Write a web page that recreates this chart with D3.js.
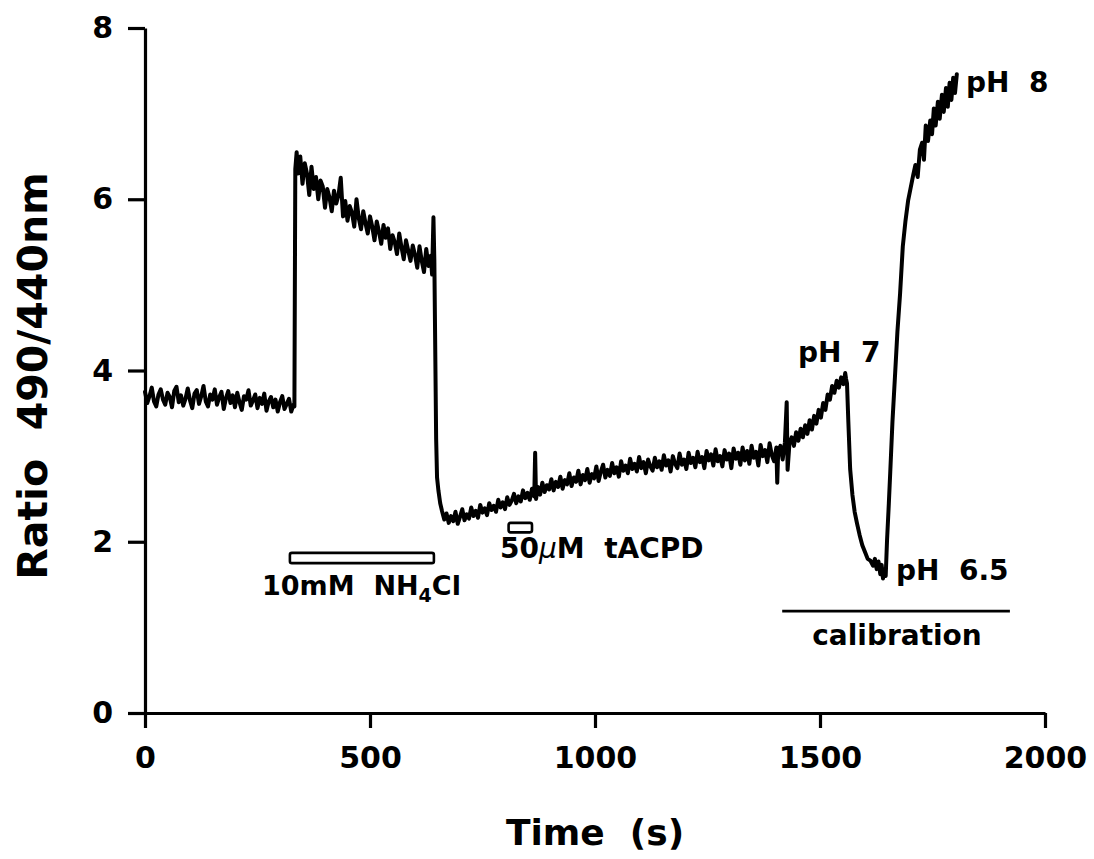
<!DOCTYPE html>
<html>
<head>
<meta charset="utf-8">
<script src="https://cdn.jsdelivr.net/npm/d3@7"></script>
<style>
  html, body { margin: 0; padding: 0; background: #fff; }
  svg { display: block; }
  text { font-family: "DejaVu Sans", sans-serif; font-weight: bold; fill: #000; white-space: pre; }
</style>
</head>
<body>
<svg id="chart" width="1094" height="859"></svg>
<script>
// ---- data (time in s, ratio 490/440nm) ----
const xTicks = [0, 500, 1000, 1500, 2000];
const yTicks = [0, 2, 4, 6, 8];

const baseline = [
  [0,3.75],[5,3.62],[10,3.70],[15,3.80],[20,3.64],[25,3.58],[30,3.72],[35,3.78],[40,3.66],[45,3.60],
  [50,3.74],[55,3.69],[60,3.57],[65,3.76],[70,3.81],[75,3.63],[80,3.71],[85,3.59],[90,3.67],[95,3.79],
  [100,3.65],[105,3.56],[110,3.73],[115,3.77],[120,3.61],[125,3.70],[130,3.82],[135,3.64],[140,3.58],[145,3.72],
  [150,3.66],[155,3.78],[160,3.60],[165,3.69],[170,3.75],[175,3.55],[180,3.68],[185,3.76],[190,3.62],[195,3.71],
  [200,3.57],[205,3.74],[210,3.63],[215,3.54],[220,3.70],[225,3.66],[230,3.77],[235,3.59],[240,3.65],[245,3.72],
  [250,3.56],[255,3.68],[260,3.61],[265,3.73],[270,3.53],[275,3.64],[280,3.69],[285,3.57],[290,3.66],[295,3.52],
  [300,3.63],[305,3.70],[310,3.55],[315,3.61],[320,3.67],[325,3.52],[330,3.60],[332,3.58]
];

const ammonium = [
  [334,6.35],[337,6.55],[340,6.30],[345,6.50],[350,6.18],[355,6.42],[360,6.30],[365,6.05],[370,6.38],[375,6.12],
  [380,6.26],[385,6.00],[390,6.22],[395,6.15],[400,5.90],[405,6.12],[410,6.02],[415,5.86],[420,6.10],[425,5.95],
  [430,6.05],[435,6.25],[440,5.80],[445,5.98],[450,5.75],[455,5.92],[460,5.84],[465,5.68],[470,6.00],[475,5.78],
  [480,5.65],[485,5.86],[490,5.72],[495,5.60],[500,5.80],[505,5.68],[510,5.52],[515,5.74],[520,5.62],[525,5.48],
  [530,5.70],[535,5.55],[540,5.66],[545,5.42],[550,5.58],[555,5.50],[560,5.36],[565,5.60],[570,5.44],[575,5.30],
  [580,5.52],[585,5.40],[590,5.28],[595,5.46],[600,5.35],[605,5.20],[610,5.45],[615,5.28],[620,5.15],[625,5.42],
  [630,5.22],[635,5.34],[638,5.12],[641,5.79],[643,5.28]
];

const recovery = [
  [647,3.20],[649,2.75],[652,2.60],[656,2.45],[660,2.36],[665,2.26],[670,2.33],[675,2.22],[680,2.30],[685,2.24],
  [690,2.35],[695,2.21],[700,2.29],[705,2.38],[710,2.25],[715,2.32],[720,2.27],[725,2.40],[730,2.30],[735,2.36],
  [740,2.28],[745,2.43],[750,2.34],[755,2.39],[760,2.31],[765,2.45],[770,2.37],[775,2.42],[780,2.35],[785,2.49],
  [790,2.40],[795,2.46],[800,2.38],[805,2.52],[810,2.43],[815,2.48],[820,2.56],[825,2.45],[830,2.53],[835,2.47],
  [840,2.60],[845,2.51],[850,2.57],[855,2.49],[860,2.62],[865,2.53],[867,3.04],[869,2.50],[873,2.64],[878,2.55],
  [883,2.69],[888,2.58],[893,2.66],[898,2.61],[903,2.73],[908,2.60],[913,2.70],[918,2.64],[923,2.76],[928,2.62],
  [933,2.72],[938,2.67],[943,2.80],[948,2.65],[953,2.75],[958,2.70],[963,2.83],[968,2.67],[973,2.78],[978,2.72],
  [983,2.85],[988,2.69],[993,2.79],[998,2.74],[1003,2.88],[1008,2.71],[1013,2.82],[1018,2.90],[1023,2.75],[1028,2.84],
  [1033,2.77],[1038,2.92],[1043,2.80],[1048,2.87],[1053,2.76],[1058,2.94],[1063,2.83],[1068,2.89],[1073,2.80],[1078,2.97],
  [1083,2.85],[1088,2.91],[1093,2.82],[1098,2.99],[1103,2.86],[1108,2.93],[1113,2.80],[1118,2.96],[1123,2.88],[1128,2.83],
  [1133,2.98],[1138,2.87],[1143,2.94],[1148,2.84],[1153,3.01],[1158,2.89],[1163,2.95],[1168,2.82],[1173,3.00],[1178,2.91],
  [1183,2.86],[1188,3.03],[1193,2.90],[1198,2.96],[1203,2.85],[1208,3.04],[1213,2.92],[1218,2.98],[1223,2.87],[1228,3.05],
  [1233,2.93],[1238,2.99],[1243,2.86],[1248,3.06],[1253,2.95],[1258,3.02],[1263,2.89],[1268,3.08],[1273,2.94],[1278,3.00],
  [1283,2.88],[1288,3.07],[1293,2.96],[1298,3.03],[1303,2.86],[1308,3.09],[1313,2.97],[1318,3.04],[1323,2.90],[1328,3.10],
  [1333,2.95],[1338,3.06],[1343,2.91],[1348,3.12],[1353,2.98],[1358,3.05],[1363,2.89],[1368,3.13],[1373,3.00],[1378,3.07],
  [1383,2.93],[1388,3.15],[1393,3.01],[1398,2.94],[1403,3.10],[1405,2.69],[1407,3.04],[1412,3.12],[1417,2.96],[1422,3.16],
  [1426,3.63],[1428,2.84],[1432,3.14],[1437,3.22],[1442,3.12],[1447,3.28],[1452,3.18],[1457,3.32],[1462,3.22],[1467,3.36],
  [1472,3.26],[1477,3.42],[1482,3.31],[1487,3.47],[1492,3.38],[1497,3.54],[1502,3.45],[1507,3.62],[1512,3.54],[1517,3.72],
  [1522,3.66],[1527,3.82],[1532,3.74],[1537,3.88],[1542,3.80],[1547,3.92],[1552,3.84],[1556,3.97],[1558,3.90]
];

const calibration = [
  [1560,3.85],[1563,3.40],[1567,2.85],[1572,2.55],[1577,2.35],[1582,2.22],[1588,2.08],[1594,1.96],[1600,1.88],[1606,1.80],
  [1612,1.78],[1618,1.72],[1622,1.80],[1626,1.68],[1630,1.77],[1634,1.62],[1637,1.73],[1640,1.57],[1643,1.68],[1646,1.60],
  [1649,2.02],[1653,2.45],[1656,2.80],[1661,3.40],[1667,3.97],[1672,4.45],[1678,4.90],[1684,5.45],[1690,5.75],[1696,5.99],
  [1701,6.12],[1707,6.28],[1712,6.40],[1717,6.26],[1722,6.58],[1727,6.66],[1731,6.46],[1735,6.86],[1740,6.68],[1745,6.92],
  [1749,6.76],[1753,7.06],[1757,6.86],[1762,7.14],[1766,6.94],[1771,7.22],[1775,7.02],[1780,7.30],[1784,7.08],[1788,7.36],
  [1792,7.16],[1796,7.42],[1800,7.24],[1804,7.46]
];

// application bars [start, end] in s, at ratio levels
const nh4clBar = [322, 642];
const tacpdBar = [808, 860];
const calibBar = [1416, 1922];

// ---- drawing ----
const svg = d3.select("#chart");
const x = d3.scaleLinear().domain([0, 2000]).range([145, 1045]);
const y = d3.scaleLinear().domain([0, 8]).range([713, 28]);

const trace = baseline.concat(ammonium, recovery, calibration);

// axes
const yAxis = svg.append("g").attr("transform", `translate(${x(0)},0)`)
  .call(d3.axisLeft(y).tickValues(yTicks).tickSize(17).tickSizeOuter(0).tickPadding(15).tickFormat(d3.format("d")));
const xAxis = svg.append("g").attr("transform", `translate(0,${y(0)})`)
  .call(d3.axisBottom(x).tickValues(xTicks).tickSize(15).tickSizeOuter(0).tickPadding(19).tickFormat(d3.format("d")));
[yAxis, xAxis].forEach(g => {
  g.select(".domain").attr("stroke", "#000").attr("stroke-width", 3.2);
  g.selectAll(".tick line").attr("stroke", "#000").attr("stroke-width", 3.2);
  g.selectAll(".tick text").attr("font-family", "DejaVu Sans").attr("font-weight", "bold")
    .attr("font-size", 30).attr("fill", "#000");
});

// trace
const line = d3.line().x(d => x(d[0])).y(d => y(d[1]));
svg.append("path").datum(trace)
  .attr("d", line)
  .attr("fill", "none").attr("stroke", "#000")
  .attr("stroke-width", 4).attr("stroke-linejoin", "round").attr("stroke-linecap", "round");

// bars
svg.append("rect")
  .attr("x", x(nh4clBar[0])).attr("y", y(1.87))
  .attr("width", x(nh4clBar[1]) - x(nh4clBar[0])).attr("height", y(1.75) - y(1.87))
  .attr("rx", 2).attr("fill", "#fff").attr("stroke", "#000").attr("stroke-width", 2.6);
svg.append("rect")
  .attr("x", x(tacpdBar[0])).attr("y", y(2.22))
  .attr("width", x(tacpdBar[1]) - x(tacpdBar[0])).attr("height", y(2.11) - y(2.22))
  .attr("rx", 2).attr("fill", "#fff").attr("stroke", "#000").attr("stroke-width", 2.6);
svg.append("line")
  .attr("x1", x(calibBar[0])).attr("x2", x(calibBar[1]))
  .attr("y1", y(1.19)).attr("y2", y(1.19))
  .attr("stroke", "#000").attr("stroke-width", 2.6);

// annotation text
const t1 = svg.append("text").attr("x", 262).attr("y", 595).attr("font-size", 27);
t1.append("tspan").text("10mM  NH");
t1.append("tspan").attr("dy", 7).attr("font-size", 19).text("4");
t1.append("tspan").attr("dy", -7).text("Cl");

const t2 = svg.append("text").attr("x", 500).attr("y", 558).attr("font-size", 28);
t2.append("tspan").text("50");
t2.append("tspan").attr("font-style", "italic").attr("font-weight", "normal").text("μ");
t2.append("tspan").text("M  tACPD");

svg.append("text").attr("x", 897).attr("y", 645).attr("font-size", 28).attr("text-anchor", "middle").text("calibration");
svg.append("text").attr("x", 798).attr("y", 362).attr("font-size", 28).text("pH  7");
svg.append("text").attr("x", 896).attr("y", 580).attr("font-size", 28).text("pH  6.5");
svg.append("text").attr("x", 966).attr("y", 92).attr("font-size", 28).text("pH  8");

// axis titles
svg.append("text").attr("x", 595).attr("y", 845).attr("font-size", 36).attr("text-anchor", "middle").text("Time  (s)");
svg.append("text").attr("transform", "translate(47,376) rotate(-90)")
  .attr("font-size", 41).attr("text-anchor", "middle").text("Ratio  490/440nm");
</script>
</body>
</html>
